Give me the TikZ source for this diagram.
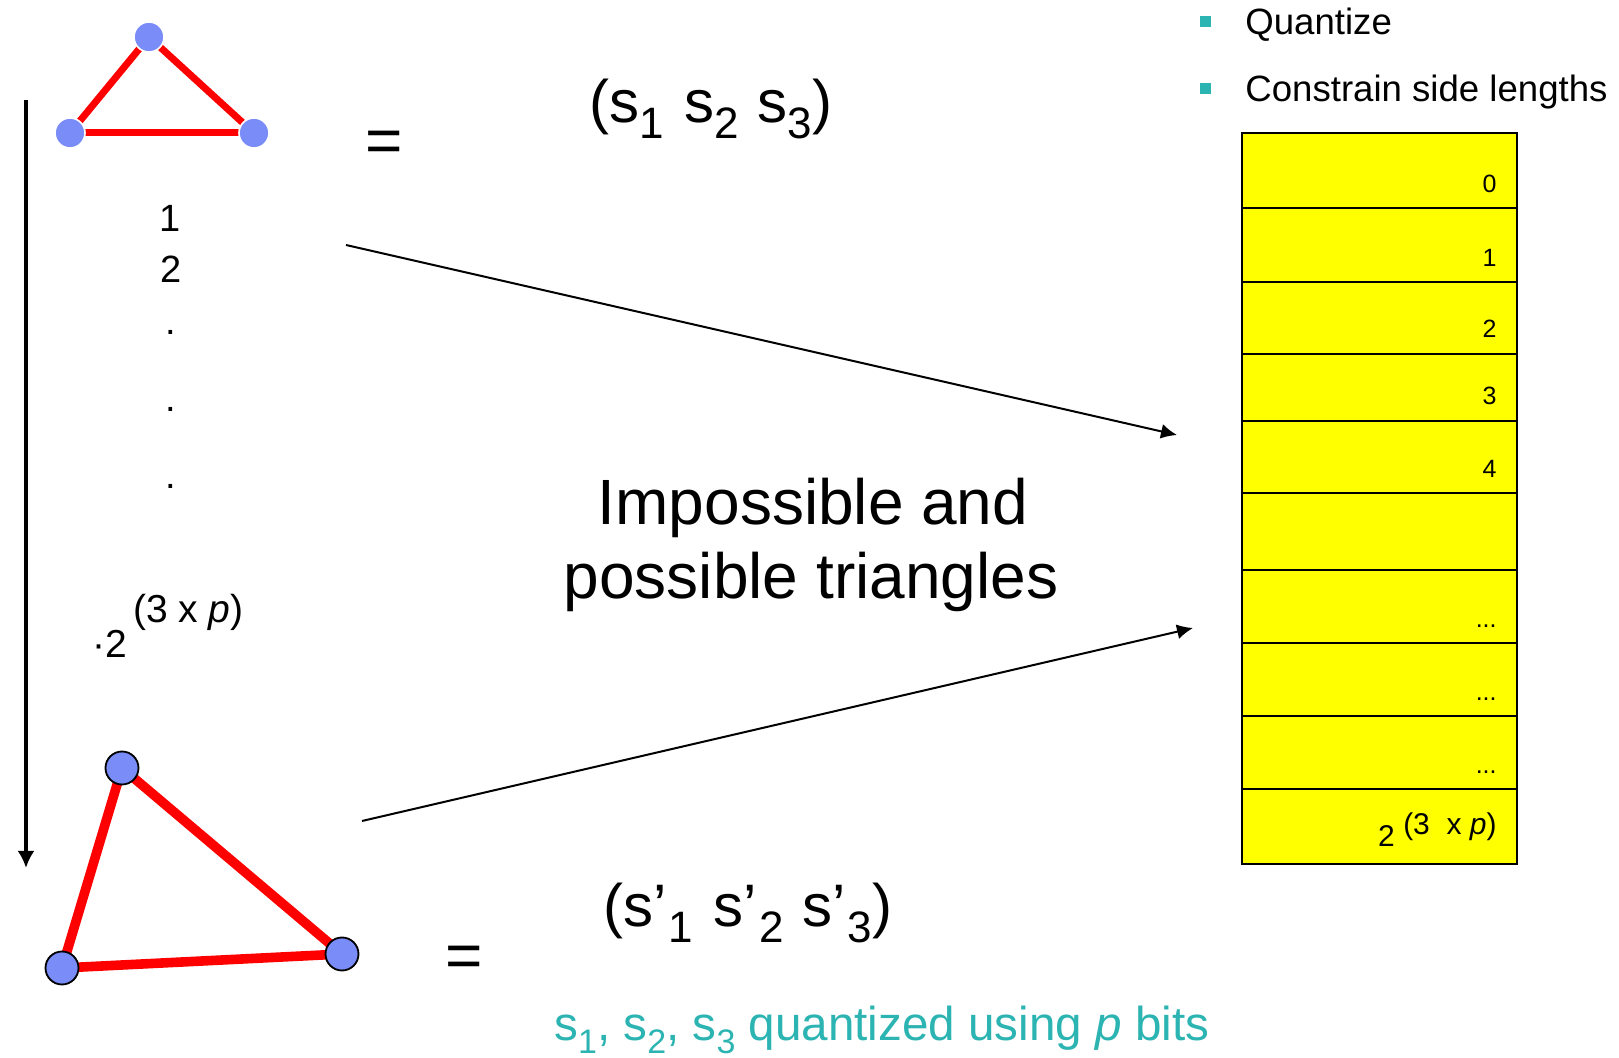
\documentclass[tikz,border=0pt]{standalone}
\usepackage{fontspec}
\setmainfont{Liberation Sans}
\usetikzlibrary{arrows.meta,backgrounds}
\definecolor{nodeblue}{RGB}{122,140,248}
\definecolor{tealtxt}{RGB}{44,180,178}
\definecolor{tabyellow}{RGB}{255,255,0}
\newcommand{\fsz}[1]{\fontsize{#1}{#1}\selectfont}
\newcommand{\bsub}[1]{\raisebox{-8pt}{\fsz{22}#1}}
\newcommand{\tsub}[1]{\raisebox{-6pt}{\fsz{17}#1}}
\begin{document}
\begin{tikzpicture}[x=0.5pt,y=-0.5pt,
  txt/.style={inner sep=0pt,anchor=base west},
  txtc/.style={inner sep=0pt,anchor=base},
  txte/.style={inner sep=0pt,anchor=base east},
  vtxA/.style={circle,fill=nodeblue,draw=white,line width=0.8pt,inner sep=0pt,minimum size=15pt},
  vtxB/.style={circle,fill=nodeblue,draw=black,line width=0.9pt,inner sep=0pt,minimum size=16.5pt},
  edgeA/.style={red,line width=3.5pt},
  edgeB/.style={red,line width=4.8pt},
  thinarrow/.style={line width=1pt,-{Latex[length=8pt,width=7.5pt]}},
  tab/.style={line width=1.2pt,draw=black},
  bullet/.style={rectangle,fill=tealtxt,inner sep=0pt,minimum size=5.5pt}]
\useasboundingbox (0,0) rectangle (1619,1058);

% top triangle
\node[vtxA] (a1) at (149,37) {};
\node[vtxA] (a2) at (70,133) {};
\node[vtxA] (a3) at (254,133) {};
\begin{scope}[on background layer]
  \fill[white] (0,0) rectangle (1619,1058);
  \draw[edgeA] (a1.center) -- (a2.center);
  \draw[edgeA] (a1.center) -- (a3.center);
  \draw[edgeA] (a2.center) -- (a3.center);
\end{scope}

% bottom triangle
\node[vtxB] (b1) at (122,768) {};
\node[vtxB] (b2) at (62,968) {};
\node[vtxB] (b3) at (342,954) {};
\begin{scope}[on background layer]
  \draw[edgeB] (b1.center) -- (b2.center);
  \draw[edgeB] (b1.center) -- (b3.center);
  \draw[edgeB] (b2.center) -- (b3.center);
\end{scope}

% vertical arrow
\coordinate (vtop) at (26,100);
\coordinate (vbot) at (26,868);
\draw[line width=2.4pt,-{Latex[length=8.5pt,width=8.5pt]}] (vtop) -- (vbot);

% equals
\node[txtc] (eq1) at (384,163) {\fsz{32}=};
\node[txtc] (eq2) at (464,978) {\fsz{32}=};

% formulas
\node[txt] (f1) at (589,123) {\fsz{30}(s\bsub{1}\kern2pt\ s\bsub{2}\kern1pt\ s\bsub{3})};
\node[txt] (f2) at (603,927) {\fsz{30}(s’\kern1pt\bsub{1}\kern2pt\ s’\kern1pt\bsub{2}\kern1pt\ s’\kern1pt\bsub{3})};

% left column
\node[txtc] (n1) at (170,232) {\fsz{19}1};
\node[txtc] (n2) at (171,283) {\fsz{19}2};
\node[txtc] (d1) at (171,335) {\fsz{19}.};
\node[txtc] (d2) at (171,412) {\fsz{19}.};
\node[txtc] (d3) at (171,489) {\fsz{19}.};
\node[txt] (nlast) at (92,658) {\fsz{19.5}·2\kern3pt\raisebox{17.5pt}{(3 x \textit{p})}};

% centre text
\node[txtc] (c1) at (813,525) {\fsz{32}Impossible and};
\node[txtc] (c2) at (811,599) {\fsz{32}possible triangles};

% bottom teal text
\node[txt,text=tealtxt] (q) at (554,1041) {\fsz{23.8}s\tsub{1}, s\tsub{2}, s\tsub{3} quantized using \textit{p} bits};

% bullets
\node[bullet] (bl1) at (1205.5,22) {};
\node[bullet] (bl2) at (1205.5,88.5) {};
\node[txt] (bt1) at (1245,35) {\fsz{18.3}Quantize};
\node[txt] (bt2) at (1245,102) {\fsz{18.3}Constrain side lengths};

% table
\fill[tabyellow] (1242,133) rectangle (1517,864);
\foreach \yy in {208,282,354,421,493,570,643,716,789}
  \draw[tab] (1242,\yy) -- (1517,\yy);
\draw[tab] (1242,133) rectangle (1517,864);
\node[txte] (r0) at (1497,193) {\fsz{12.5}0};
\node[txte] (r1) at (1497,267) {\fsz{12.5}1};
\node[txte] (r2) at (1497,338) {\fsz{12.5}2};
\node[txte] (r3) at (1497,405) {\fsz{12.5}3};
\node[txte] (r4) at (1497,478) {\fsz{12.5}4};
\node[txte] (r6) at (1497,628) {\fsz{12.5}...};
\node[txte] (r7) at (1497,701) {\fsz{12.5}...};
\node[txte] (r8) at (1497,774) {\fsz{12.5}...};
\node[txte] (r9) at (1497,847) {\fsz{15}2 \raisebox{6pt}{(3\ \ x \textit{p})}};

% arrows into table
\coordinate (s1) at (346,245);
\coordinate (t1) at (1177,435);
\coordinate (s2) at (362,821);
\coordinate (t2) at (1193,628);
\draw[thinarrow] (s1) -- (t1);
\draw[thinarrow] (s2) -- (t2);
\end{tikzpicture}
\end{document}
